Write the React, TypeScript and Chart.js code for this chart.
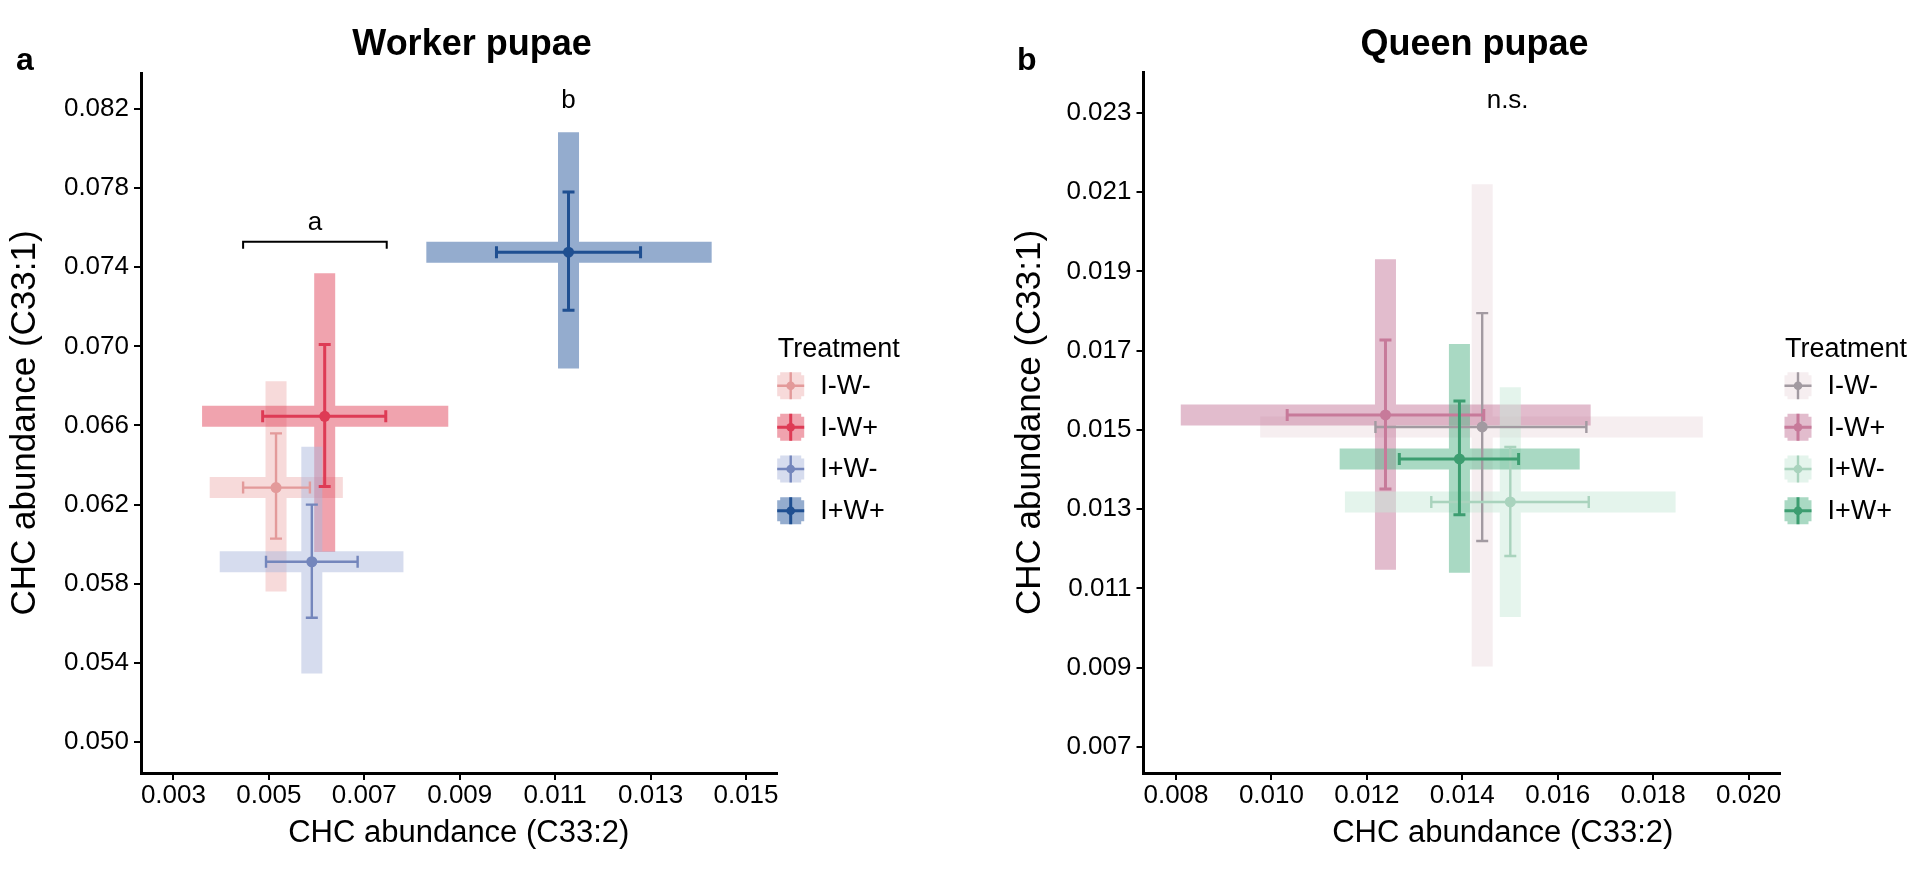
import React, { useEffect, useRef } from 'react';
import { Chart, registerables } from 'chart.js';

Chart.register(...registerables);

const FONT = "'Liberation Sans', Arial, Helvetica, sans-serif";

// ---------- data ----------
const GROUPS = ['I-W-', 'I-W+', 'I+W-', 'I+W+'];

// Worker pupae
const W_MEAN_X = [0.00515, 0.00617, 0.0059, 0.01128];
const W_MEAN_Y = [0.06286, 0.06646, 0.05911, 0.07476];
const W_SE_X = [[0.00446, 0.00586], [0.00487, 0.00745], [0.00494, 0.00686], [0.00977, 0.01279]];
const W_SE_Y = [[0.06028, 0.0656], [0.06291, 0.0701], [0.05628, 0.062], [0.07182, 0.0778]];
const W_BAND_X = [[0.00376, 0.00655], [0.0036, 0.00876], [0.00397, 0.00782], [0.0083, 0.01428]];
const W_BAND_Y = [[0.0576, 0.06823], [0.0596, 0.0737], [0.05346, 0.06493], [0.06888, 0.08083]];
const W_X_TICKS = [0.003, 0.005, 0.007, 0.009, 0.011, 0.013, 0.015];
const W_X_LABELS = ['0.003', '0.005', '0.007', '0.009', '0.011', '0.013', '0.015'];
const W_Y_TICKS = [0.05, 0.054, 0.058, 0.062, 0.066, 0.07, 0.074, 0.078, 0.082];
const W_Y_LABELS = ['0.050', '0.054', '0.058', '0.062', '0.066', '0.070', '0.074', '0.078', '0.082'];
const W_X_RANGE = [0.00232, 0.015639];
const W_Y_RANGE = [0.04843, 0.08382];
const W_SIG_TEXT = ['a', 'b'];
const W_SIG_X = [0.005965, 0.01128];
const W_SIG_Y = [0.07586, 0.08207];
const W_BRACKET_X = [0.00446, 0.00747];
const W_BRACKET_Y = 0.07529;

// Queen pupae
const Q_MEAN_X = [0.014417, 0.01239, 0.015006, 0.01394];
const Q_MEAN_Y = [0.015076, 0.01538, 0.013184, 0.01427];
const Q_SE_X = [[0.01218, 0.0166], [0.01033, 0.01445], [0.01335, 0.01665], [0.01268, 0.01518]];
const Q_SE_Y = [[0.0122, 0.01795], [0.01351, 0.01727], [0.01182, 0.01457], [0.01286, 0.01573]];
const Q_BAND_X = [[0.009765, 0.01904], [0.0081, 0.01669], [0.01154, 0.01847], [0.01143, 0.01646]];
const Q_BAND_Y = [[0.00903, 0.0212], [0.01147, 0.01931], [0.01028, 0.01608], [0.0114, 0.01717]];
const Q_X_TICKS = [0.008, 0.01, 0.012, 0.014, 0.016, 0.018, 0.02];
const Q_X_LABELS = ['0.008', '0.010', '0.012', '0.014', '0.016', '0.018', '0.020'];
const Q_Y_TICKS = [0.007, 0.009, 0.011, 0.013, 0.015, 0.017, 0.019, 0.021, 0.023];
const Q_Y_LABELS = ['0.007', '0.009', '0.011', '0.013', '0.015', '0.017', '0.019', '0.021', '0.023'];
const Q_X_RANGE = [0.007319, 0.020658];
const Q_Y_RANGE = [0.006344, 0.024034];
const Q_SIG_TEXT = ['n.s.'];
const Q_SIG_X = [0.01495];
const Q_SIG_Y = [0.023126];

const X_TITLE = 'CHC abundance (C33:2)';
const Y_TITLE = 'CHC abundance (C33:1)';

// ---------- styles ----------
const W_MARKER = ['#e39a9a', '#de3b55', '#7486bc', '#1f4f91'];
const W_BAND = ['rgba(239,181,181,0.5)', 'rgba(225,71,93,0.5)', 'rgba(173,185,221,0.5)', 'rgba(41,89,157,0.5)'];
const Q_MARKER = ['#a29aa1', '#c77a9a', '#a9d3bd', '#3c9d70'];
const Q_BAND = ['rgba(237,221,225,0.5)', 'rgba(197,121,155,0.5)', 'rgba(201,233,217,0.5)', 'rgba(83,179,135,0.5)'];
const LINE_W = [2.4, 3, 2.4, 3];
const BAND_W = 21;
const CAP = 6;

type PanelDef = {
  meanX: number[]; meanY: number[];
  seX: number[][]; seY: number[][];
  bandX: number[][]; bandY: number[][];
  xTicks: number[]; xLabels: string[]; yTicks: number[]; yLabels: string[];
  xRange: number[]; yRange: number[];
  sigText: string[]; sigX: number[]; sigY: number[];
  bracketX?: number[]; bracketY?: number;
  marker: string[]; band: string[];
  title: string; letter: string;
  titleX: number; letterX: number;
  area: { left: number; right: number; top: number; bottom: number };
  yTitlePad: number;
  xTitleShift: number;
  legendX: number;
};

const CANVAS_W = 960;
const CANVAS_H = 870;

function makeConfig(p: PanelDef): any {
  const overlay = {
    id: 'crossOverlay',
    beforeDatasetsDraw(chart: any) {
      const { ctx } = chart;
      const xs = chart.scales.x;
      const ys = chart.scales.y;
      ctx.save();
      // bands
      p.meanX.forEach((mx, i) => {
        const cx = xs.getPixelForValue(mx);
        const cy = ys.getPixelForValue(p.meanY[i]);
        const bx0 = xs.getPixelForValue(p.bandX[i][0]);
        const bx1 = xs.getPixelForValue(p.bandX[i][1]);
        const by0 = ys.getPixelForValue(p.bandY[i][1]);
        const by1 = ys.getPixelForValue(p.bandY[i][0]);
        ctx.beginPath();
        ctx.rect(bx0, cy - BAND_W / 2, bx1 - bx0, BAND_W);
        ctx.rect(cx - BAND_W / 2, by0, BAND_W, by1 - by0);
        ctx.fillStyle = p.band[i];
        ctx.fill('nonzero');
      });
      // error bars
      p.meanX.forEach((mx, i) => {
        const cx = xs.getPixelForValue(mx);
        const cy = ys.getPixelForValue(p.meanY[i]);
        const ex0 = xs.getPixelForValue(p.seX[i][0]);
        const ex1 = xs.getPixelForValue(p.seX[i][1]);
        const ey0 = ys.getPixelForValue(p.seY[i][1]);
        const ey1 = ys.getPixelForValue(p.seY[i][0]);
        ctx.strokeStyle = p.marker[i];
        ctx.lineWidth = LINE_W[i];
        ctx.lineCap = 'butt';
        ctx.beginPath();
        ctx.moveTo(ex0, cy); ctx.lineTo(ex1, cy);
        ctx.moveTo(ex0, cy - CAP); ctx.lineTo(ex0, cy + CAP);
        ctx.moveTo(ex1, cy - CAP); ctx.lineTo(ex1, cy + CAP);
        ctx.moveTo(cx, ey0); ctx.lineTo(cx, ey1);
        ctx.moveTo(cx - CAP, ey0); ctx.lineTo(cx + CAP, ey0);
        ctx.moveTo(cx - CAP, ey1); ctx.lineTo(cx + CAP, ey1);
        ctx.stroke();
      });
      ctx.restore();
    },
    afterDraw(chart: any) {
      const { ctx, chartArea } = chart;
      const xs = chart.scales.x;
      const ys = chart.scales.y;
      ctx.save();
      ctx.fillStyle = '#000';
      ctx.textBaseline = 'alphabetic';
      // title
      ctx.font = `bold 36px ${FONT}`;
      ctx.textAlign = 'center';
      ctx.fillText(p.title, p.titleX, 54.5);
      // panel letter
      ctx.font = `bold 32px ${FONT}`;
      ctx.textAlign = 'left';
      ctx.fillText(p.letter, p.letterX, 70);
      // x axis title
      ctx.font = `31px ${FONT}`;
      ctx.textAlign = 'center';
      ctx.textBaseline = 'middle';
      ctx.fillText(X_TITLE, (chartArea.left + chartArea.right) / 2 + p.xTitleShift, 833.7);
      ctx.textBaseline = 'alphabetic';
      // significance labels
      ctx.font = `26px ${FONT}`;
      ctx.textAlign = 'center';
      p.sigText.forEach((t, i) => {
        ctx.fillText(t, xs.getPixelForValue(p.sigX[i]), ys.getPixelForValue(p.sigY[i]));
      });
      // bracket
      if (p.bracketX && p.bracketY !== undefined) {
        const x0 = xs.getPixelForValue(p.bracketX[0]);
        const x1 = xs.getPixelForValue(p.bracketX[1]);
        const y = ys.getPixelForValue(p.bracketY);
        ctx.strokeStyle = '#000';
        ctx.lineWidth = 2;
        ctx.beginPath();
        ctx.moveTo(x0, y + 7); ctx.lineTo(x0, y); ctx.lineTo(x1, y); ctx.lineTo(x1, y + 7);
        ctx.stroke();
      }
      // legend
      const lx = p.legendX;
      ctx.font = `27px ${FONT}`;
      ctx.textAlign = 'left';
      ctx.fillText('Treatment', lx - 13, 356.5);
      const rows = [385.7, 427.3, 469, 510.7];
      GROUPS.forEach((g, i) => {
        const cy = rows[i];
        const s = 13.5;
        const h = 10.5;
        ctx.beginPath();
        ctx.rect(lx - s, cy - h, 2 * s, 2 * h);
        ctx.rect(lx - h, cy - s, 2 * h, 2 * s);
        ctx.fillStyle = p.band[i];
        ctx.fill('nonzero');
        ctx.strokeStyle = p.marker[i];
        ctx.lineWidth = LINE_W[i];
        ctx.beginPath();
        ctx.moveTo(lx - s, cy); ctx.lineTo(lx + s, cy);
        ctx.moveTo(lx, cy - s); ctx.lineTo(lx, cy + s);
        ctx.stroke();
        ctx.fillStyle = p.marker[i];
        ctx.beginPath();
        ctx.arc(lx, cy, 4.3, 0, Math.PI * 2);
        ctx.fill();
        ctx.fillStyle = '#000';
        ctx.textBaseline = 'middle';
        ctx.fillText(g, lx + 29.5, cy + 1);
        ctx.textBaseline = 'alphabetic';
      });
      ctx.restore();
    },
  };

  const datasets = p.meanX.map((mx, i) => ({
    label: GROUPS[i],
    data: [{ x: mx, y: p.meanY[i] }],
    pointRadius: 5.5,
    pointHoverRadius: 5.5,
    pointBackgroundColor: p.marker[i],
    pointBorderWidth: 0,
    showLine: false,
  }));

  return {
    type: 'scatter',
    data: { datasets },
    plugins: [overlay],
    options: {
      animation: false,
      responsive: false,
      devicePixelRatio: 1,
      events: [],
      layout: {
        padding: { left: 0, top: p.area.top, right: CANVAS_W - p.area.right, bottom: 0 },
      },
      plugins: { legend: { display: false }, tooltip: { enabled: false }, title: { display: false } },
      scales: {
        x: {
          type: 'linear',
          min: p.xRange[0],
          max: p.xRange[1],
          afterFit: (s: any) => { s.height = CANVAS_H - p.area.bottom; },
          afterBuildTicks: (s: any) => { s.ticks = p.xTicks.map((v) => ({ value: v })); },
          ticks: {
            callback: (_v: any, i: number) => p.xLabels[i],
            font: { family: FONT, size: 26, lineHeight: 1 },
            color: '#000',
            padding: 2.5,
            maxRotation: 0,
            autoSkip: false,
          },
          grid: { drawOnChartArea: false, drawTicks: true, tickLength: 7, color: '#000', lineWidth: 2 },
          border: { display: true, color: '#000', width: 3 },
          title: { display: false },
        },
        y: {
          type: 'linear',
          min: p.yRange[0],
          max: p.yRange[1],
          afterFit: (s: any) => { s.width = p.area.left; },
          afterBuildTicks: (s: any) => { s.ticks = p.yTicks.map((v) => ({ value: v })); },
          ticks: {
            callback: (_v: any, i: number) => p.yLabels[i],
            font: { family: FONT, size: 26, lineHeight: 1 },
            color: '#000',
            padding: 5,
            autoSkip: false,
          },
          grid: { drawOnChartArea: false, drawTicks: true, tickLength: 7, color: '#000', lineWidth: 2 },
          border: { display: true, color: '#000', width: 3 },
          title: {
            display: true,
            text: Y_TITLE,
            font: { family: FONT, size: 35, lineHeight: 1.2 },
            color: '#000',
            padding: { top: p.yTitlePad, bottom: 0 },
          },
        },
      },
    },
  };
}

const WORKER: PanelDef = {
  meanX: W_MEAN_X, meanY: W_MEAN_Y, seX: W_SE_X, seY: W_SE_Y, bandX: W_BAND_X, bandY: W_BAND_Y,
  xTicks: W_X_TICKS, xLabels: W_X_LABELS, yTicks: W_Y_TICKS, yLabels: W_Y_LABELS,
  xRange: W_X_RANGE, yRange: W_Y_RANGE,
  sigText: W_SIG_TEXT, sigX: W_SIG_X, sigY: W_SIG_Y, bracketX: W_BRACKET_X, bracketY: W_BRACKET_Y,
  marker: W_MARKER, band: W_BAND,
  title: 'Worker pupae', letter: 'a', titleX: 472, letterX: 16,
  area: { left: 141, right: 776.5, top: 73, bottom: 773 },
  yTitlePad: 4.4,
  xTitleShift: 0,
  legendX: 790.7,
};

const QUEEN: PanelDef = {
  meanX: Q_MEAN_X, meanY: Q_MEAN_Y, seX: Q_SE_X, seY: Q_SE_Y, bandX: Q_BAND_X, bandY: Q_BAND_Y,
  xTicks: Q_X_TICKS, xLabels: Q_X_LABELS, yTicks: Q_Y_TICKS, yLabels: Q_Y_LABELS,
  xRange: Q_X_RANGE, yRange: Q_Y_RANGE,
  sigText: Q_SIG_TEXT, sigX: Q_SIG_X, sigY: Q_SIG_Y,
  marker: Q_MARKER, band: Q_BAND,
  title: 'Queen pupae', letter: 'b', titleX: 514.6, letterX: 57,
  area: { left: 183.5, right: 820, top: 72, bottom: 773 },
  yTitlePad: 48.9,
  xTitleShift: 41,
  legendX: 838,
};

function Panel({ def, left }: { def: PanelDef; left: number }) {
  const ref = useRef<HTMLCanvasElement>(null);
  useEffect(() => {
    if (!ref.current) return;
    const chart = new Chart(ref.current, makeConfig(def));
    return () => chart.destroy();
  }, [def]);
  return (
    <canvas
      ref={ref}
      width={CANVAS_W}
      height={CANVAS_H}
      style={{ position: 'absolute', left, top: 0, width: CANVAS_W, height: CANVAS_H }}
    />
  );
}

export default function App() {
  return (
    <div style={{ position: 'absolute', left: 0, top: 0, width: 1920, height: 870, background: '#fff', overflow: 'hidden' }}>
      <Panel def={WORKER} left={0} />
      <Panel def={QUEEN} left={960} />
    </div>
  );
}
